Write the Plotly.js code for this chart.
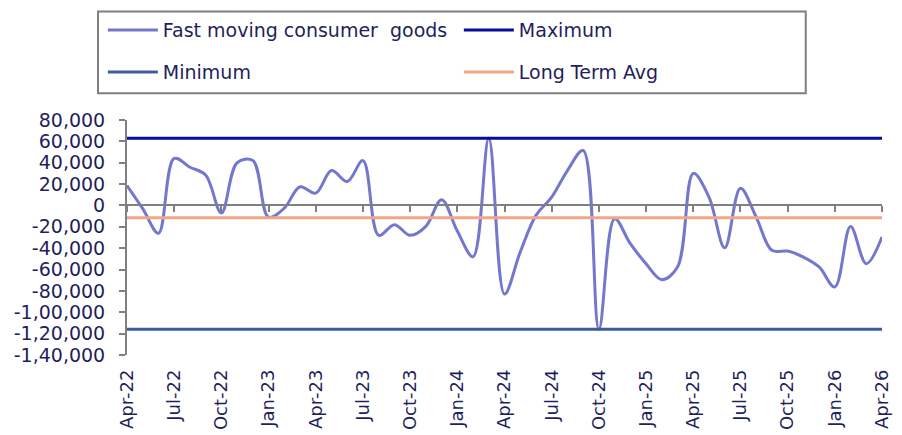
<!DOCTYPE html>
<html>
<head>
<meta charset="utf-8">
<script src="https://cdn.plot.ly/plotly-3.0.1.min.js"></script>
<style>html,body{margin:0;padding:0;background:#fff;}#chart{width:902px;height:435px;}</style>
</head>
<body>
<div id="chart"></div>
<script>
// Monthly categories Apr-22 .. Apr-26
var months = ["Apr-22","May-22","Jun-22","Jul-22","Aug-22","Sep-22","Oct-22","Nov-22","Dec-22",
  "Jan-23","Feb-23","Mar-23","Apr-23","May-23","Jun-23","Jul-23","Aug-23","Sep-23","Oct-23","Nov-23","Dec-23",
  "Jan-24","Feb-24","Mar-24","Apr-24","May-24","Jun-24","Jul-24","Aug-24","Sep-24","Oct-24","Nov-24","Dec-24",
  "Jan-25","Feb-25","Mar-25","Apr-25","May-25","Jun-25","Jul-25","Aug-25","Sep-25","Oct-25","Nov-25","Dec-25",
  "Jan-26","Feb-26","Mar-26","Apr-26"];

var fmcg = [18700, -3000, -26000, 44000, 35800, 28500, -7000, 40000, 42000,
  -11000, -2500, 17500, 11500, 32700, 22400, 42000, -28000, -18000, -28000, -19600, 5300,
  -24000, -48000, 63000, -83000, -43600, -9300, 7800, 32700, 51400, -116000, -12500, -35800,
  -54500, -69500, -57600, 30000, 7800, -39600, 16200, -10900, -42000, -42700, -48300, -57600,
  -76300, -19600, -54500, -29600];

var maxVal = 63000;
var minVal = -116000;
var ltaVal = -11500;

var xTickLabels = ["Apr-22","Jul-22","Oct-22","Jan-23","Apr-23","Jul-23","Oct-23","Jan-24","Apr-24",
  "Jul-24","Oct-24","Jan-25","Apr-25","Jul-25","Oct-25","Jan-26","Apr-26"];

var yTickVals = [80000, 60000, 40000, 20000, 0, -20000, -40000, -60000, -80000, -100000, -120000, -140000];
var yTickText = ["80,000","60,000","40,000","20,000","0","-20,000","-40,000","-60,000","-80,000","-1,00,000","-1,20,000","-1,40,000"];

var maxArr = months.map(function(){return maxVal;});
var minArr = months.map(function(){return minVal;});
var ltaArr = months.map(function(){return ltaVal;});

var txtColor = "#1f1f5c";
var font = "DejaVu Sans, sans-serif";

var traces = [
  {x: months, y: fmcg, name: "Fast moving consumer  goods", type: "scatter", mode: "lines",
   line: {color: "#7478cc", width: 3, shape: "spline", smoothing: 1}, legend: "legend"},
  {x: months, y: maxArr, name: "Maximum", type: "scatter", mode: "lines",
   line: {color: "#0a0a9c", width: 3}, legend: "legend"},
  {x: months, y: minArr, name: "Minimum", type: "scatter", mode: "lines",
   line: {color: "#3c5c9c", width: 3}, legend: "legend2"},
  {x: months, y: ltaArr, name: "Long Term Avg", type: "scatter", mode: "lines",
   line: {color: "#f2a688", width: 3}, legend: "legend2"},
  // invisible trace to carry tick marks on the zero line axis
  {x: months, y: fmcg, xaxis: "x2", yaxis: "y", type: "scatter", mode: "lines",
   line: {width: 0}, hoverinfo: "skip", showlegend: false, opacity: 0}
];

var legendCommon = {
  orientation: "h", xanchor: "left", yanchor: "middle",
  font: {family: font, size: 19, color: txtColor},
  bgcolor: "rgba(0,0,0,0)", borderwidth: 0,
  entrywidth: 291, entrywidthmode: "pixels", itemwidth: 50, traceorder: "normal"
};

var layout = {
  width: 902, height: 435,
  margin: {l: 127, r: 20, t: 119, b: 80, pad: 0},
  paper_bgcolor: "#ffffff", plot_bgcolor: "#ffffff",
  font: {family: font, size: 18, color: txtColor},
  showlegend: true,
  legend: Object.assign({x: -0.032, y: 1.377}, legendCommon),
  legend2: Object.assign({x: -0.032, y: 1.199}, legendCommon),
  xaxis: {
    type: "category", range: [0, 48], showgrid: false, zeroline: false, showline: false,
    tickmode: "array", tickvals: xTickLabels, ticktext: xTickLabels,
    tickangle: -90, ticks: "", ticklabelstandoff: 10,
    tickfont: {family: font, size: 18, color: txtColor}
  },
  xaxis2: {
    type: "category", range: [0, 48], overlaying: "x", anchor: "free",
    position: 140000 / 220000, showgrid: false, zeroline: false, showline: true,
    linecolor: "#808080", linewidth: 2,
    tickmode: "array", tickvals: xTickLabels, ticks: "outside", ticklen: 6, tickwidth: 2,
    tickcolor: "#808080", showticklabels: false
  },
  yaxis: {
    range: [-140000, 80000], showgrid: false, zeroline: false,
    showline: true, linecolor: "#808080", linewidth: 2,
    tickmode: "array", tickvals: yTickVals, ticktext: yTickText,
    ticks: "outside", ticklen: 6, tickwidth: 2, tickcolor: "#808080",
    ticklabelstandoff: 10,
    tickfont: {family: font, size: 19, color: txtColor}
  },
  shapes: [
    {type: "rect", xref: "paper", yref: "paper",
     x0: -0.0384, x1: 0.899, y0: 1.114, y1: 1.462,
     line: {color: "#7f7f7f", width: 2}, fillcolor: "rgba(0,0,0,0)"}
  ]
};

Plotly.newPlot("chart", traces, layout, {staticPlot: true, displayModeBar: false});
</script>
</body>
</html>
